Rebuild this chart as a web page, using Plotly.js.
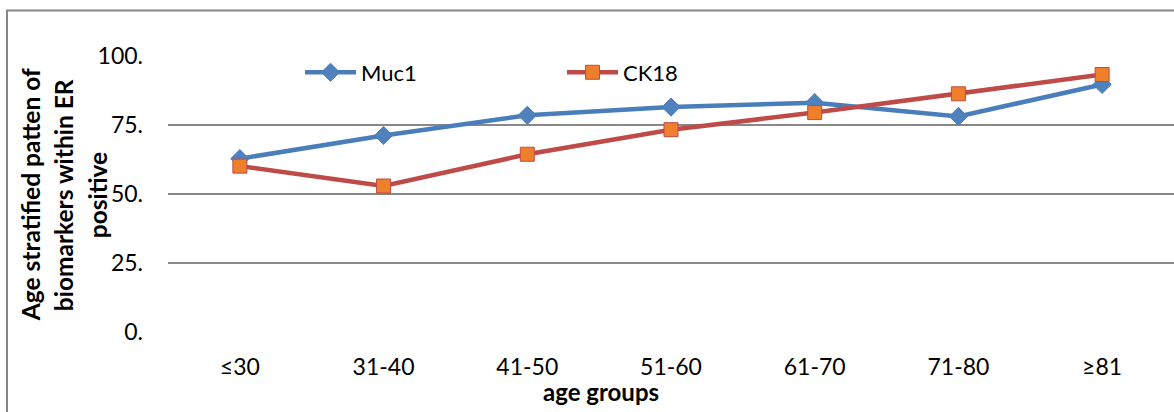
<!DOCTYPE html>
<html><head><meta charset="utf-8">
<script src="https://cdn.plot.ly/plotly-3.0.1.min.js"></script>
<style>html,body{margin:0;padding:0;background:#fff}#chart{width:1174px;height:412px}</style>
</head><body><div id="chart"></div>
<script>
const categories = ["≤30","31-40","41-50","51-60","61-70","71-80","≥81"];
const muc1 = [62.8, 71.2, 78.5, 81.5, 83.1, 78.1, 89.7];
const ck18 = [60.1, 52.9, 64.4, 73.3, 79.5, 86.3, 93.3];
const yTickVals = [0, 25, 50, 75, 100];
const yTickText = ["0.", "25.", "50.", "75.", "100."];
const yTitleLines = ["Age stratified patten of", "biomarkers within ER", "positive"];

const font = "Lato, 'Open Sans', sans-serif";
const L = 168, T = 55.5, W = 1006, H = 276.5;
const px = v => (v - L) / W;
const py = v => 1 - (v - T) / H;

const traces = [
  {x: categories, y: muc1, name: "Muc1", type: "scatter", mode: "lines+markers",
   line: {color: "#4a7ebb", width: 4.5},
   marker: {symbol: "diamond", size: 14, color: "#4f81bd", line: {color: "#4a7ebb", width: 1}}},
  {x: categories, y: ck18, name: "CK18", type: "scatter", mode: "lines+markers",
   line: {color: "#be4b48", width: 4.5},
   marker: {symbol: "square", size: 14, color: "#f07f2c", line: {color: "#be4b48", width: 1}}}
];
const titleX = [30, 63, 97];
const annotations = yTitleLines.map((t, i) => ({
  text: "<b>" + t + "</b>", xref: "paper", yref: "paper", x: px(titleX[i]), y: py(195),
  xanchor: "center", yanchor: "middle", textangle: -90, showarrow: false,
  font: {size: 24.5, family: font}
}));
annotations.push({text: "<b>age groups</b>", xref: "paper", yref: "paper", x: px(601), y: py(392),
  xanchor: "center", yanchor: "middle", showarrow: false, font: {size: 24, family: font}});

const layout = {
  width: 1174, height: 412,
  margin: {l: L, r: 0, t: T, b: 80},
  paper_bgcolor: "#fff", plot_bgcolor: "#fff",
  font: {family: font, color: "#000", size: 22},
  showlegend: true,
  legend: {orientation: "h", x: px(300), y: py(72), yanchor: "middle", xanchor: "left",
           bgcolor: "rgba(0,0,0,0)", font: {size: 22, family: font},
           entrywidth: 196, entrywidthmode: "pixels", itemwidth: 51, tracegroupgap: 0},
  xaxis: {type: "category", range: [-0.5, 6.5], showgrid: false, zeroline: false,
          showline: false, ticks: "", tickfont: {size: 23, family: font}, ticklabelstandoff: 19,
          fixedrange: true},
  yaxis: {range: [0, 100], tickvals: yTickVals, ticktext: yTickText,
          showgrid: true, gridcolor: "#888", gridwidth: 2, zeroline: false,
          showline: false, ticks: "", ticklabelstandoff: 24,
          tickfont: {size: 23, family: font}, fixedrange: true},
  annotations: annotations,
  shapes: [
    {type: "rect", xref: "paper", yref: "paper",
     x0: px(7), x1: 1.05, y0: -0.4, y1: py(10),
     line: {color: "#868686", width: 2}, fillcolor: "rgba(0,0,0,0)", layer: "below"}
  ]
};
Plotly.newPlot("chart", traces, layout, {displayModeBar: false, staticPlot: true});
</script></body></html>
